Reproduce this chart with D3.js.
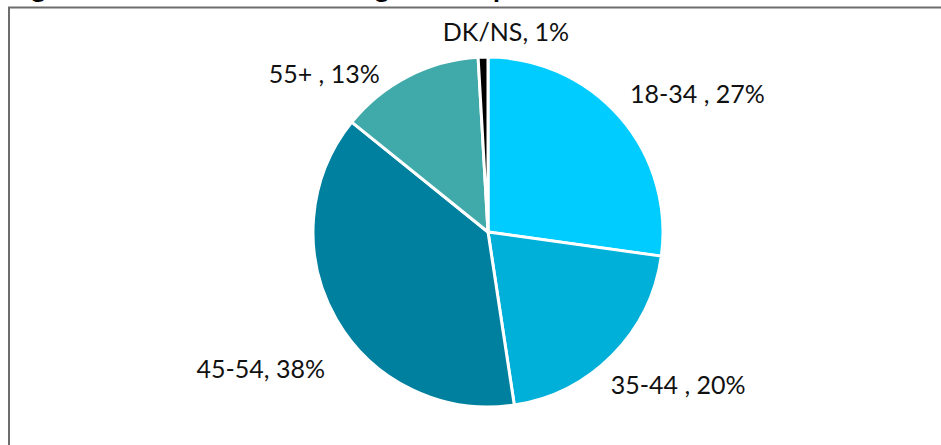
<!DOCTYPE html>
<html>
<head>
<meta charset="utf-8">
<script src="https://cdn.jsdelivr.net/npm/d3@7"></script>
<style>
  body { margin: 0; background: #fff; }
  text { white-space: pre; }
</style>
</head>
<body>
<div id="pie-chart"></div>
<script>
// categories as they appear in the labels (some have a trailing space before the comma)
const categories = ["18-34 ", "35-44 ", "45-54", "55+ ", "DK/NS"];
const shares = [27.2, 20.4, 38.2, 13.3, 0.9];
const colors = ["#00ccff", "#00b0d8", "#00809f", "#40a9a9", "#000000"];
const title = "Figure 2: Distribution of the age of sample";

// small hand nudges of the data labels (the original tool moved some of them)
const labelNudge = [[-5, 4], [-16, 0], [6, 24], [-24, 29], [27, 9]];

function draw() {
  const width = 941, height = 445;
  const data = categories.map((c, i) => ({cat: c, value: shares[i], color: colors[i], nudge: labelNudge[i]}));

  const svg = d3.select("#pie-chart")
    .append("svg")
    .attr("width", width)
    .attr("height", height)
    .attr("viewBox", [0, 0, width, height]);

  // title, cut off by the top of the picture
  svg.append("text")
    .attr("x", 8)
    .attr("y", -3)
    .attr("font-family", "Lato, sans-serif")
    .attr("font-weight", "bold")
    .attr("font-size", 28)
    .attr("fill", "#000")
    .text(title);

  // chart frame (only left and top edges are visible)
  svg.append("path")
    .attr("d", `M9,${height} V7.5 H${width}`)
    .attr("fill", "none")
    .attr("stroke", "#6d6d6d")
    .attr("stroke-width", 2);

  const cx = 488, cy = 232, radius = 175;
  const chart = svg.append("g")
    .attr("transform", `translate(${cx},${cy})`);

  const pie = d3.pie().sort(null).value(d => d.value);
  const arc = d3.arc().innerRadius(0).outerRadius(radius);
  const arcs = pie(data);

  chart.selectAll("path.slice")
    .data(arcs)
    .join("path")
    .attr("class", "slice")
    .attr("d", arc)
    .attr("fill", d => d.data.color)
    .attr("stroke", "#fff")
    .attr("stroke-width", 3)
    .attr("stroke-linejoin", "round");

  // labels placed outside the pie, with the box corner nearest the pie on a ring
  const labelRadius = 195;
  const clamp = v => Math.max(-1, Math.min(1, v));
  const labels = chart.selectAll("text.label")
    .data(arcs)
    .join("text")
    .attr("class", "label")
    .attr("font-family", "Lato, sans-serif")
    .attr("font-size", 25)
    .attr("fill", "#111")
    .attr("text-anchor", "middle")
    .text(d => `${d.data.cat}, ${Math.round(d.data.value)}%`);

  labels.each(function(d) {
    const a = (d.startAngle + d.endAngle) / 2;
    const px = labelRadius * Math.sin(a);
    const py = -labelRadius * Math.cos(a);
    const box = this.getBBox();
    const mx = px + box.width / 2 * clamp(Math.sin(a) * 2) + d.data.nudge[0];
    const my = py - box.height / 2 * clamp(Math.cos(a) * 2) + d.data.nudge[1];
    // shift so that the box center sits at (mx, my)
    d3.select(this)
      .attr("x", mx)
      .attr("y", my - (box.y + box.height / 2));
  });
}

draw();
</script>
</body>
</html>
